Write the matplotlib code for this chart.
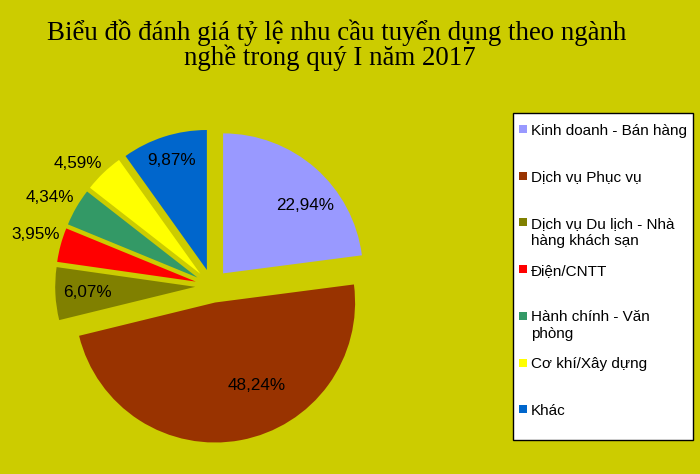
import textwrap
import numpy as np
import matplotlib
matplotlib.use("Agg")
import matplotlib.pyplot as plt
from matplotlib.patches import Rectangle

# ---- data ----
categories = ["Kinh doanh - Bán hàng", "Dịch vụ Phục vụ",
              "Dịch vụ Du lịch - Nhà hàng khách sạn", "Điện/CNTT",
              "Hành chính - Văn phòng", "Cơ khí/Xây dựng", "Khác"]
values = [22.94, 48.24, 6.07, 3.95, 4.34, 4.59, 9.87]
title_lines = ["Biểu đồ đánh giá tỷ lệ nhu cầu tuyển dụng theo ngành",
               "nghề trong quý I năm 2017"]

# ---- style ----
colors = ["#9999FF", "#993300", "#808000", "#FF0000", "#339966", "#FFFF00", "#0066CC"]
bg = "#CCCC00"
label_dist = [0.88, 0.78, 0.89, 1.31, 1.32, 1.30, 0.94]
label_ang_off = [-8, 13.6, 0, -1, 1.6, 3.7, 0]

W, H = 700, 474
fig = plt.figure(figsize=(W / 100, H / 100), dpi=100)
fig.patch.set_facecolor(bg)

def fx(x):
    return x / W

def fy(y):
    return 1 - y / H

# pie axes: centre at (212,286) px, radius 140 px
cx, cy, R = 212, 286, 140
half = 1.3 * R
ax = fig.add_axes([fx(cx - half), fy(cy + half), 2 * half / W, 2 * half / H])
wedges, _ = ax.pie(values, colors=colors, startangle=90, counterclock=False,
                   explode=[0.12] * len(values), radius=1,
                   wedgeprops=dict(linewidth=0))
ax.set_xlim(-1.3, 1.3)
ax.set_ylim(-1.3, 1.3)
ax.axis("off")

for w, v, d, off in zip(wedges, values, label_dist, label_ang_off):
    ang = np.deg2rad((w.theta1 + w.theta2) / 2 + off)
    ax.text(d * np.cos(ang), d * np.sin(ang), f"{v:.2f}".replace(".", ",") + "%",
            ha="center", va="center", fontsize=12.3, color="black",
            family="Liberation Sans")

# title
fig.text(fx(337), fy(40), title_lines[0], ha="center", va="baseline",
         fontsize=19.4, family="Liberation Serif", color="black")
fig.text(fx(330), fy(65), title_lines[1], ha="center", va="baseline",
         fontsize=19.4, family="Liberation Serif", color="black")

# legend box
fig.patches.append(Rectangle((fx(513), fy(440)), (693 - 513) / W, (440 - 113) / H,
                             transform=fig.transFigure, facecolor="white",
                             edgecolor="black", linewidth=1.0, zorder=1))
y0, step, lstep = 129, 46.7, 17
for i, (cat, col) in enumerate(zip(categories, colors)):
    yc = y0 + i * step
    fig.patches.append(Rectangle((fx(519), fy(yc + 4)), 8 / W, 8 / H,
                                 transform=fig.transFigure, facecolor=col,
                                 edgecolor="none", zorder=2))
    for k, line in enumerate(textwrap.wrap(cat, width=21)):
        fig.text(fx(531), fy(yc + 5.5 + k * lstep), line,
                 ha="left", va="baseline", fontsize=11, family="Liberation Sans",
                 color="black", zorder=3)

fig.savefig("out.png", dpi=100, facecolor=bg)
